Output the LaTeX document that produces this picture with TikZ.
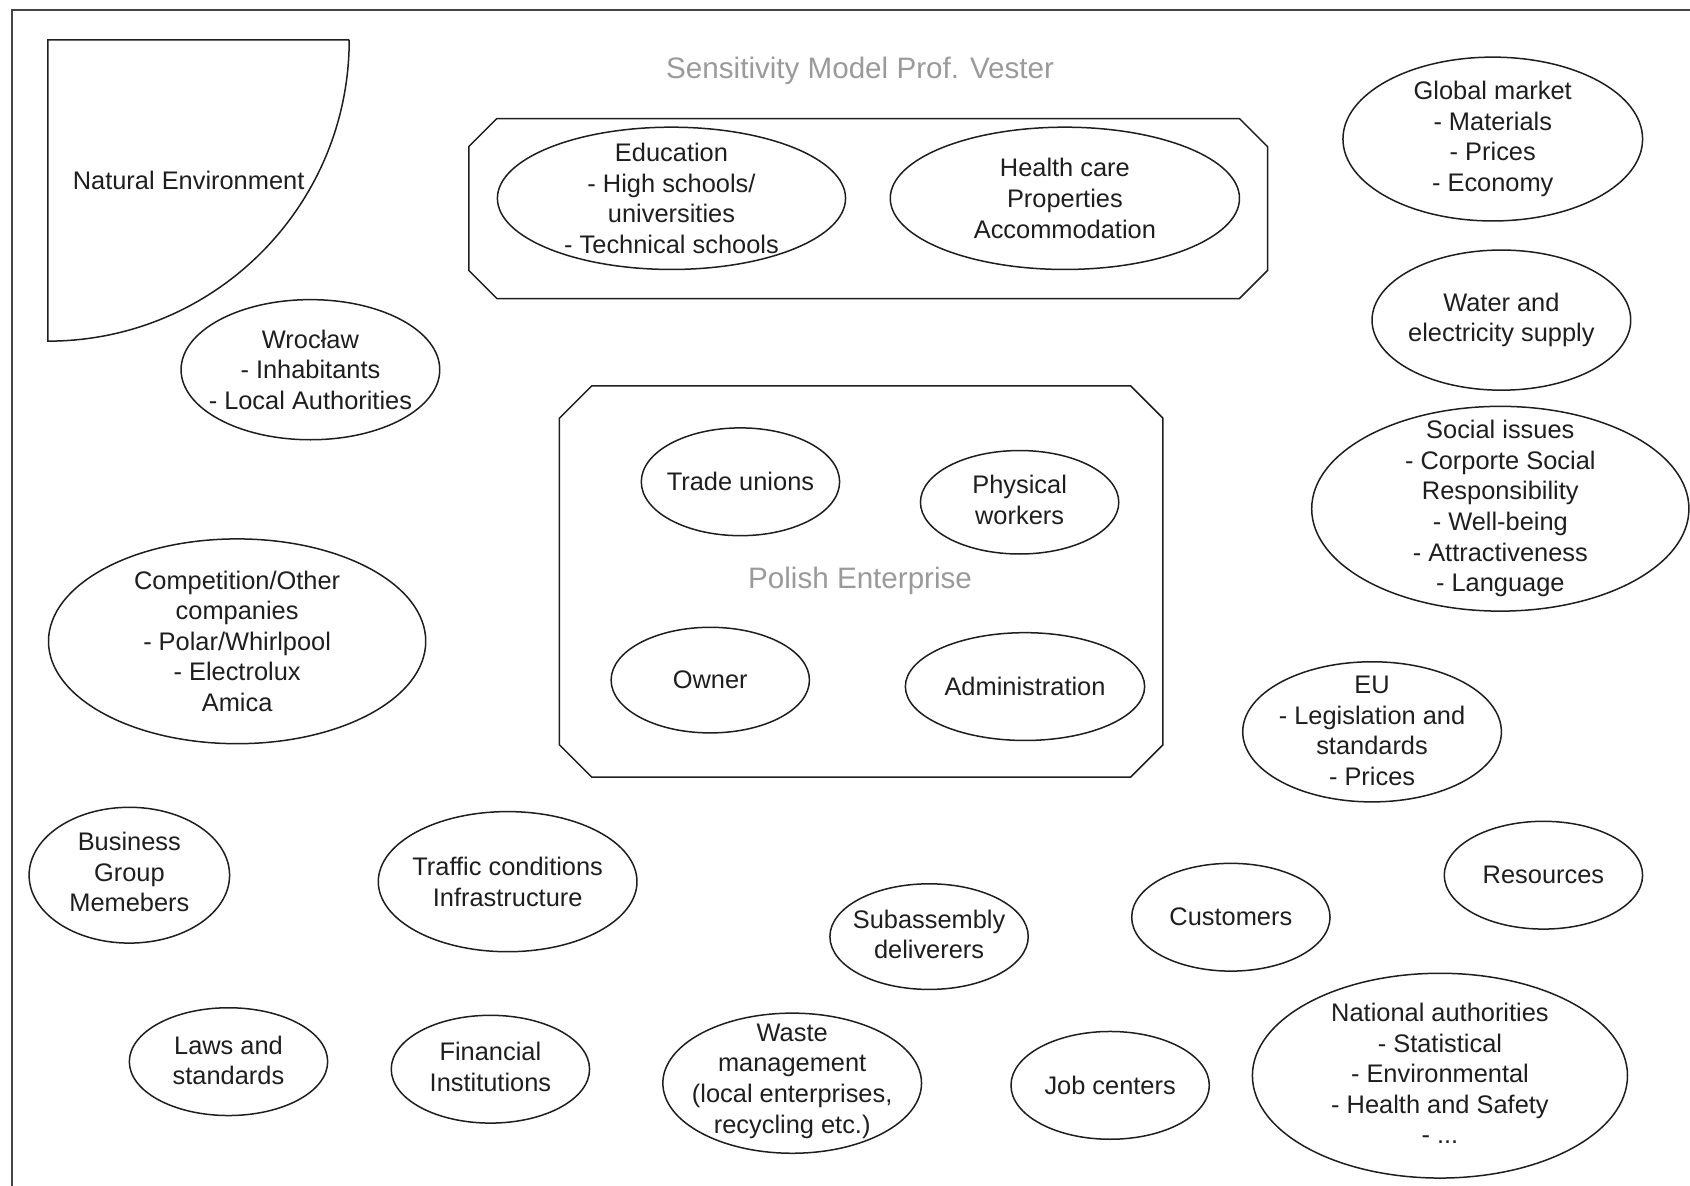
\documentclass[tikz,border=0pt]{standalone}
\usepackage{fontspec}
\setmainfont{Liberation Sans}
\definecolor{ink}{HTML}{1E1E1E}
\definecolor{graytxt}{HTML}{9A9A9A}
\definecolor{framecol}{HTML}{444444}
\tikzset{
  eltxt/.style={inner sep=0pt, align=center, font=\fontsize{12.7}{15.3}\selectfont, text=ink},
  bigtxt/.style={text=graytxt, font=\fontsize{14.8}{17.8}\selectfont, inner sep=0pt},
  plaintxt/.style={text=ink, font=\fontsize{12.7}{15.3}\selectfont, inner sep=0pt},
  boxline/.style={draw=ink, line width=0.75pt},
}
\begin{document}
\begin{tikzpicture}[x=0.5389pt,y=-0.5389pt]
\useasboundingbox (0,0) rectangle (1568,1100);
% outer frame
\draw[line width=1pt, draw=framecol] (11,1100) -- (11,9.3) -- (1568,9.3);

% natural environment
\draw[boxline] (324,37) -- (44.5,37) -- (44.5,316.5)
  .. controls (198.9,316.5) and (324,191.4) .. (324,37);
\node[plaintxt] (nat_env) at (175,167) {Natural Environment};

% title
\node[bigtxt] (title) at (798,66) {Sensitivity Model Prof. Vester};

% octagon 1
\draw[boxline] (461,110) -- (1150,110) -- (1176,136) -- (1176,251) -- (1150,277)
  -- (461,277) -- (435,251) -- (435,136) -- cycle;
\node[eltxt] (edu) at (623,184) {Education\\- High schools/\\universities\\- Technical schools};
\node[eltxt] (health) at (988,184) {Health care\\Properties\\Accommodation};

% octagon 2
\draw[boxline] (549,358) -- (1049,358) -- (1079,388) -- (1079,691) -- (1049,721)
  -- (549,721) -- (519,691) -- (519,388) -- cycle;
\node[eltxt] (trade) at (687,447) {Trade unions};
\node[eltxt] (phys) at (946,464) {Physical\\workers};
\node[bigtxt] (polish) at (798,539) {Polish Enterprise};
\node[eltxt] (owner) at (659,631) {Owner};
\node[eltxt] (admin) at (951,637) {Administration};

% surrounding ellipses (texts)
\node[eltxt] (glob) at (1385,129) {Global market\\- Materials\\- Prices\\- Economy};
\node[eltxt] (water) at (1393,297) {Water and\\electricity supply};
\node[eltxt] (social) at (1392,472) {Social issues\\- Corporte Social\\Responsibility\\- Well-being\\- Attractiveness\\- Language};
\node[eltxt] (wro) at (288,343) {Wrocław\\- Inhabitants\\- Local Authorities};
\node[eltxt] (comp) at (220,595) {Competition/Other\\companies\\- Polar/Whirlpool\\- Electrolux\\Amica};
\node[eltxt] (eu) at (1273,678) {EU\\- Legislation and\\standards\\- Prices};
\node[eltxt] (bus) at (120,809) {Business\\Group\\Memebers};
\node[eltxt] (traffic) at (471,818) {Traffic conditions\\Infrastructure};
\node[eltxt] (res) at (1432,812) {Resources};
\node[eltxt] (cust) at (1142,851) {Customers};
\node[eltxt] (sub) at (862,867) {Subassembly\\deliverers};
\node[eltxt] (laws) at (212,984) {Laws and\\standards};
\node[eltxt] (fin) at (455,990) {Financial\\Institutions};
\node[eltxt] (waste) at (735,1003) {Waste\\management\\(local enterprises,\\recycling etc.)};
\node[eltxt] (job) at (1030,1007) {Job centers};
\node[eltxt] (nat) at (1336,996) {National authorities\\- Statistical\\- Environmental\\- Health and Safety\\- ...};

% ellipse outlines: name / x / y / rx / ry
\foreach \cx/\cy/\a/\b in {623/184/161.5/66, 988/184/162/66, 687/447/92/50,
  946/466/92/48, 659/631/92/49, 951/637/111/50, 1385/129/139/76,
  1393/297/120/65, 1392/472/175/95, 288/343/120/65, 220/595/175/95,
  1273/679/120/65, 120/812/93/63, 471/818/120/65, 1432/812/92/50,
  1142/851/92/50, 862/869/92/49, 212/985/92/50, 455/992/92/50,
  735/1005/120/65, 1030/1007/92/50, 1336/998/174/95}
  \draw[boxline] (\cx,\cy) ellipse [x radius=\a*0.5389pt, y radius=\b*0.5389pt];
\end{tikzpicture}
\end{document}
